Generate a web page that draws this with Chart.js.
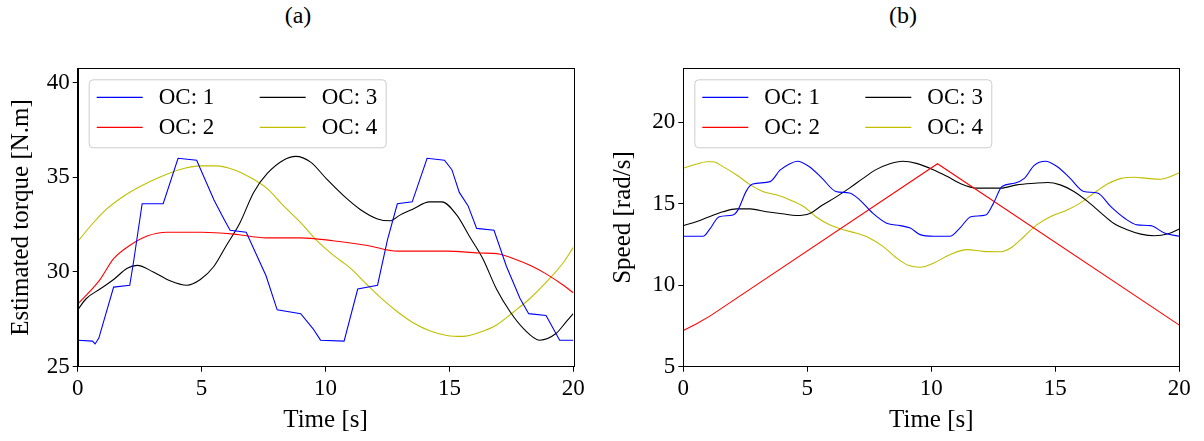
<!DOCTYPE html>
<html>
<head>
<meta charset="utf-8">
<script src="https://cdn.jsdelivr.net/npm/chart.js@4"></script>
<style>
  body { margin:0; background:#fff; width:1204px; height:441px; overflow:hidden; position:relative; }
  .panel { position:absolute; top:0; width:602px; height:441px; }
  .ttl { position:absolute; top:2px; font-family:'Liberation Serif', serif; font-size:24px; color:#000; transform:translateX(-50%); }
</style>
</head>
<body>
<div class="ttl" style="left:298px">(a)</div>
<div class="ttl" style="left:903px">(b)</div>
<div class="panel" style="left:0"><canvas id="chartA"></canvas></div>
<div class="panel" style="left:602px"><canvas id="chartB"></canvas></div>
<script>
// ---- data ----
const labels = ['OC: 1', 'OC: 2', 'OC: 3', 'OC: 4']
const colors = ['#0000ff', '#ff0000', '#000000', '#bfbf00']
const xTicks = [0, 5, 10, 15, 20]
const torqueTicks = [25, 30, 35, 40]
const speedTicks = [5, 10, 15, 20]

// (a) estimated torque
const torque1_t = [0, 0.6, 0.7, 0.85, 1.45, 2.1, 2.25, 2.6, 3.45, 4.05, 4.8, 5.5, 5.9, 6.15, 6.8, 7.6, 8.05, 9.0, 9.5, 9.8, 10.75, 11.3, 12.1, 12.5, 12.9, 13.5, 14.1, 14.8, 15.1, 15.4, 15.75, 16.1, 16.8, 17.3, 17.85, 18.2, 18.9, 19.45, 20]
const torque1_v = [26.4, 26.35, 26.2, 26.5, 29.2, 29.3, 30.5, 33.6, 33.6, 36.0, 35.9, 33.8, 32.8, 32.2, 32.1, 29.8, 28.0, 27.8, 27.0, 26.4, 26.35, 29.1, 29.3, 31.7, 33.6, 33.7, 36.0, 35.9, 35.4, 34.2, 33.5, 32.3, 32.2, 30.3, 28.6, 27.8, 27.7, 26.4, 26.4]
const torque2_t = [0, 0.9, 1.45, 2.1, 2.8, 3.6, 5.0, 6.3, 7.6, 9.0, 10.3, 11.7, 12.9, 13.5, 14.9, 16.2, 17.0, 17.6, 18.25, 18.9, 19.6, 20]
const torque2_v = [28.3, 29.6, 30.7, 31.4, 31.9, 32.1, 32.1, 32.0, 31.8, 31.8, 31.65, 31.4, 31.1, 31.1, 31.1, 31.0, 30.95, 30.7, 30.35, 29.9, 29.3, 28.9]
const torque3_t = [0, 0.35, 0.9, 1.45, 2.0, 2.4, 3.05, 3.7, 4.4, 4.95, 5.5, 6.0, 6.55, 7.1, 7.65, 8.3, 8.8, 9.4, 10.05, 10.75, 11.4, 12.1, 12.6, 13.0, 13.5, 14.2, 14.7, 15.3, 15.8, 16.35, 16.9, 17.45, 18.0, 18.65, 19.3, 19.7, 20]
const torque3_v = [28.0, 28.6, 29.1, 29.6, 30.2, 30.35, 30.0, 29.55, 29.3, 29.6, 30.3, 31.4, 32.6, 34.2, 35.2, 35.9, 36.1, 35.8, 34.9, 34.0, 33.3, 32.8, 32.7, 33.0, 33.3, 33.7, 33.7, 33.0, 31.9, 30.7, 29.1, 27.9, 27.0, 26.4, 26.75, 27.35, 27.8]
const torque4_t = [0, 0.5, 1.15, 1.85, 2.5, 3.3, 4.1, 4.95, 5.6, 6.3, 6.95, 7.65, 8.3, 9.0, 9.65, 10.3, 11.0, 11.7, 12.35, 12.9, 13.5, 14.2, 14.9, 15.55, 16.2, 16.9, 17.6, 18.25, 18.9, 19.6, 20]
const torque4_v = [31.6, 32.4, 33.3, 34.0, 34.5, 35.0, 35.4, 35.6, 35.6, 35.4, 35.0, 34.4, 33.5, 32.6, 31.65, 30.9, 30.2, 29.3, 28.5, 27.9, 27.35, 26.9, 26.65, 26.6, 26.8, 27.2, 27.9, 28.6, 29.45, 30.5, 31.3]

// (b) speed
const speed1_t = [0, 0.8, 1.05, 1.45, 2.0, 2.2, 2.55, 2.8, 3.5, 3.9, 4.3, 4.6, 5.1, 5.6, 6.15, 6.7, 7.1, 7.65, 8.2, 8.75, 9.15, 9.55, 10.1, 10.75, 11.15, 11.6, 12.2, 12.5, 12.85, 13.35, 13.75, 14.15, 14.6, 15.1, 15.6, 16.15, 16.7, 17.25, 17.8, 18.3, 18.85, 19.4, 20]
const speed1_v = [13.0, 13.0, 13.4, 14.2, 14.3, 14.6, 15.8, 16.2, 16.35, 17.05, 17.45, 17.6, 17.25, 16.55, 15.75, 15.65, 15.25, 14.4, 13.8, 13.65, 13.5, 13.1, 13.0, 13.0, 13.5, 14.2, 14.3, 15.0, 16.05, 16.25, 16.55, 17.35, 17.6, 17.25, 16.55, 15.75, 15.65, 14.8, 14.1, 13.7, 13.65, 13.2, 13.0]
const speed2_t = [0, 0.5, 1.07, 10.25, 20]
const speed2_v = [7.22, 7.6, 8.1, 17.45, 7.55]
const speed3_t = [0, 0.55, 1.05, 1.6, 2.15, 2.7, 3.35, 4.0, 4.55, 5.1, 5.6, 6.15, 6.7, 7.25, 7.75, 8.3, 8.85, 9.4, 10.1, 10.65, 11.15, 11.85, 12.8, 13.45, 14.15, 14.7, 15.2, 15.75, 16.3, 16.85, 17.35, 17.9, 18.45, 19.0, 19.55, 20]
const speed3_v = [13.65, 13.9, 14.2, 14.5, 14.68, 14.68, 14.5, 14.38, 14.27, 14.4, 14.9, 15.4, 15.95, 16.55, 17.07, 17.43, 17.6, 17.47, 17.07, 16.66, 16.25, 15.95, 15.95, 16.15, 16.25, 16.3, 16.15, 15.75, 15.14, 14.42, 13.8, 13.4, 13.13, 13.03, 13.15, 13.45]
const speed4_t = [0, 0.55, 0.95, 1.2, 1.6, 2.15, 2.7, 3.2, 3.75, 4.3, 4.85, 5.35, 5.9, 6.45, 6.95, 7.5, 8.05, 8.6, 9.1, 9.55, 10.1, 10.75, 11.45, 12.1, 12.8, 13.2, 13.75, 14.25, 14.8, 15.5, 16.0, 16.55, 17.1, 17.65, 18.2, 18.7, 19.25, 19.65, 20]
const speed4_v = [17.17, 17.43, 17.57, 17.57, 17.27, 16.76, 16.15, 15.75, 15.54, 15.23, 14.82, 14.2, 13.7, 13.4, 13.2, 12.9, 12.38, 11.67, 11.2, 11.1, 11.36, 11.87, 12.18, 12.07, 12.05, 12.28, 13.0, 13.7, 14.2, 14.62, 15.03, 15.64, 16.2, 16.55, 16.62, 16.55, 16.5, 16.66, 16.9]

const FONT = "'Liberation Serif', serif"

function pairs(t, v) {
    return t.map((x, i) => ({x: x, y: v[i]}))
}

function make_datasets(series, sharp) {
    return series.map((s, i) => ({
        label: labels[i],
        data: pairs(s[0], s[1]),
        borderColor: colors[i],
        borderWidth: 1.1,
        pointRadius: 0,
        fill: false,
        cubicInterpolationMode: sharp[i] ? 'default' : 'monotone',
        tension: 0
    }))
}

// black frame round the plot area + legend in two columns (column-first like matplotlib)
const framePlugin = {
    id: 'frame',
    afterDatasetsDraw(chart) {
        const a = chart.chartArea, ctx = chart.ctx
        ctx.save()
        ctx.strokeStyle = '#000'
        ctx.lineWidth = 1
        ctx.strokeRect(Math.round(a.left) + 0.5, Math.round(a.top) + 0.5, Math.round(a.right - a.left), Math.round(a.bottom - a.top))

        // legend box
        const bx = a.left + 11, by = a.top + 11, bw = 297, bh = 68
        ctx.beginPath()
        ctx.roundRect(bx + 0.5, by + 0.5, bw, bh, 4)
        ctx.fillStyle = 'rgba(255,255,255,0.8)'
        ctx.fill()
        ctx.strokeStyle = '#cccccc'
        ctx.stroke()
        ctx.font = '23px ' + FONT
        ctx.textBaseline = 'middle'
        ctx.fillStyle = '#000'
        chart.data.datasets.forEach((ds, i) => {
            const col = Math.floor(i / 2), row = i % 2
            const lx = bx + 8 + col * 163, ly = by + 18 + row * 30
            ctx.beginPath()
            ctx.moveTo(lx, ly)
            ctx.lineTo(lx + 46, ly)
            ctx.strokeStyle = ds.borderColor
            ctx.lineWidth = 1.3
            ctx.stroke()
            ctx.fillText(ds.label, lx + 62, ly + 1)
        })
        ctx.restore()
    }
}

function make_chart(id, series, sharp, yTitle, ymin, ymax, yTicks, axisW, padRight) {
    const ctx = document.getElementById(id).getContext('2d')
    return new Chart(ctx, {
        type: 'line',
        data: { datasets: make_datasets(series, sharp) },
        plugins: [framePlugin],
        options: {
            responsive: true,
            maintainAspectRatio: false,
            animation: false,
            layout: { padding: { left: 0, right: padRight, top: 68.3, bottom: 0 } },
            plugins: { legend: { display: false }, tooltip: { enabled: false } },
            scales: {
                x: {
                    type: 'linear', min: 0, max: 20,
                    afterBuildTicks(s) { s.ticks = xTicks.map(v => ({value: v})) },
                    afterFit(s) { s.height = 74.3; s.paddingLeft = 0; s.paddingRight = 0 },
                    ticks: { font: { family: FONT, size: 23 }, color: '#000', padding: 3, maxRotation: 0 },
                    grid: { drawOnChartArea: false, tickLength: 5, color: '#000' },
                    border: { color: '#000' },
                    title: { display: true, text: 'Time [s]', font: { family: FONT, size: 25 }, color: '#000', padding: { top: 0, bottom: 6 } }
                },
                y: {
                    min: ymin, max: ymax,
                    afterBuildTicks(s) { s.ticks = yTicks.map(v => ({value: v})) },
                    afterFit(s) { s.width = axisW; s.paddingTop = 0; s.paddingBottom = 0 },
                    ticks: { font: { family: FONT, size: 23 }, color: '#000', padding: 3 },
                    grid: { drawOnChartArea: false, tickLength: 5, color: '#000' },
                    border: { color: '#000' },
                    title: { display: true, text: yTitle, font: { family: FONT, size: 25 }, color: '#000', padding: { top: 6, bottom: 0 } }
                }
            }
        }
    })
}

make_chart('chartA',
    [[torque1_t, torque1_v], [torque2_t, torque2_v], [torque3_t, torque3_v], [torque4_t, torque4_v]],
    [true, false, false, false],
    'Estimated torque [N.m]', 25, 40.75, torqueTicks, 77.7, 28.7)

make_chart('chartB',
    [[speed1_t, speed1_v], [speed2_t, speed2_v], [speed3_t, speed3_v], [speed4_t, speed4_v]],
    [false, true, false, false],
    'Speed [rad/s]', 5, 23.3, speedTicks, 81.3, 24.7)
</script>
</body>
</html>
